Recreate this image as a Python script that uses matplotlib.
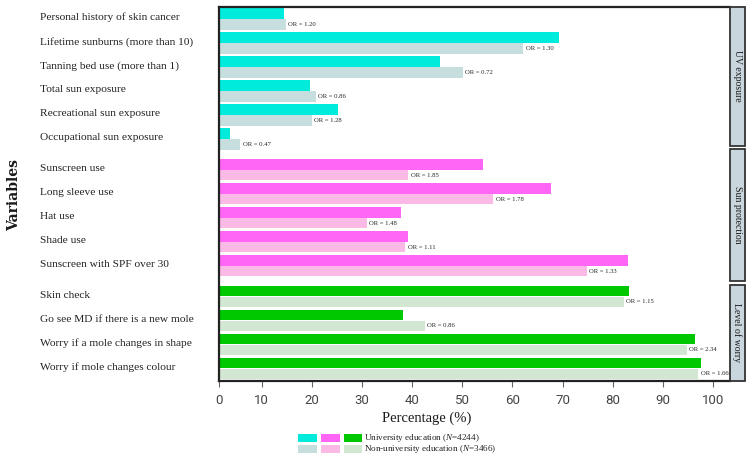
import matplotlib
matplotlib.use("Agg")
import matplotlib.pyplot as plt
from matplotlib.patches import Rectangle
from matplotlib.transforms import blended_transform_factory

categories = [
    "Personal history of skin cancer", "Lifetime sunburns (more than 10)",
    "Tanning bed use (more than 1)", "Total sun exposure",
    "Recreational sun exposure", "Occupational sun exposure",
    "Sunscreen use", "Long sleeve use", "Hat use", "Shade use",
    "Sunscreen with SPF over 30",
    "Skin check", "Go see MD if there is a new mole",
    "Worry if a mole changes in shape", "Worry if mole changes colour",
]
groups = ["UV exposure"] * 6 + ["Sun protection"] * 5 + ["Level of worry"] * 4
group_names = ["UV exposure", "Sun protection", "Level of worry"]
univ = [14.4, 69.3, 45.5, 19.7, 25.3, 3.7, 54.2, 67.7, 37.7, 39.2, 83.0,
        83.2, 38.1, 96.5, 97.6]
nonuniv = [14.8, 62.2, 50.1, 20.8, 20.0, 5.7, 39.2, 56.2, 30.9, 38.6, 74.8,
           82.2, 42.5, 94.8, 97.1]
odds = ["1.20", "1.30", "0.72", "0.86", "1.28", "0.47", "1.85", "1.78", "1.48",
        "1.11", "1.33", "1.15", "0.86", "2.34", "1.66"]
xticks = [10, 20, 30, 40, 50, 60, 70, 80, 90, 100]

colors_univ = {"UV exposure": "#00EBDB", "Sun protection": "#FF66F6",
               "Level of worry": "#00C800"}
colors_non = {"UV exposure": "#C6DEDD", "Sun protection": "#FBB9E6",
              "Level of worry": "#D1E7D1"}

SERIF = "Liberation Serif"
plt.rcParams["mathtext.fontset"] = "custom"
plt.rcParams["mathtext.rm"] = "Liberation Serif"
plt.rcParams["mathtext.it"] = "Liberation Serif:italic"

fig = plt.figure(figsize=(7.52, 4.59), dpi=100)
W, H = 752, 459
ax = fig.add_axes([219 / W, 1 - 381 / H, (730 - 219) / W, (381 - 7) / H])

gap = 0.28
pos = []
for i, g in enumerate(groups):
    pos.append(0.5 + i + gap * group_names.index(g))

bh = 0.44
off = 0.225
for p, g, u, n, o in zip(pos, groups, univ, nonuniv, odds):
    ax.barh(p - off, u, height=bh, color=colors_univ[g], edgecolor="none", zorder=2)
    ax.barh(p + off, n, height=bh, color=colors_non[g], edgecolor="none", zorder=2)
    ax.text(n + 0.5, p + off, f"OR = {o}", fontsize=4.8, family=SERIF,
            va="center", ha="left", color="#222222", zorder=3,
            bbox=dict(facecolor="white", edgecolor="none", pad=0.6))

ax.set_ylim(15.58, 0)
ax.set_xlim(1.48, 103.4)
ax.set_yticks([p - 0.1 for p in pos])
ax.set_yticklabels(categories, family=SERIF, fontsize=8.2, color="#222222")
ax.tick_params(axis="y", length=0, pad=129)
for lab in ax.get_yticklabels():
    lab.set_ha("left")
ax.set_xticks([1.48] + xticks)
ax.set_xticklabels(["0"] + [str(t) for t in xticks], family="Roboto",
                   fontsize=9.5, color="#444444")
ax.tick_params(axis="x", length=4, color="#666666", pad=5)

for s in ["left", "top", "bottom"]:
    ax.spines[s].set_linewidth(1.6)
    ax.spines[s].set_color("#222222")
ax.spines["right"].set_visible(False)

# facet strips
tr = blended_transform_factory(ax.transAxes, ax.transData)
strip_x0 = 1.0
strip_w = (744.5 - 730) / (730 - 219)
strip_ranges = {"UV exposure": (0.0, 5.78), "Sun protection": (5.92, 11.42),
                "Level of worry": (11.58, 15.58)}
for g in group_names:
    y0, y1 = strip_ranges[g]
    ax.add_patch(Rectangle((strip_x0, y0), strip_w, y1 - y0, transform=tr,
                           facecolor="#C9D6DD", edgecolor="#333333",
                           linewidth=1.3, clip_on=False, zorder=5))
    ax.text(strip_x0 + strip_w / 2, (y0 + y1) / 2, g, transform=tr,
            rotation=270, ha="center", va="center", fontsize=7,
            family=SERIF, color="#1a1a1a", zorder=6)

fig.text(14 / W, 1 - 195 / H, "Variables", rotation=90, ha="center",
         va="center", family="DejaVu Serif", fontsize=10, fontweight="bold",
         color="#1a1a1a")
fig.text(427 / W, 1 - 418 / H, "Percentage (%)", ha="center", va="center",
         family=SERIF, fontsize=10.5, color="#1a1a1a")

# legend
sw_x = [298, 321, 343.5]
sw_w = 18.5
rows = [(434, "univ", "University education ($\\it{N}$=4244)"),
        (445, "non", "Non-university education ($\\it{N}$=3466)")]
for ytop, kind, label in rows:
    for x, g in zip(sw_x, group_names):
        c = colors_univ[g] if kind == "univ" else colors_non[g]
        fig.patches.append(Rectangle((x / W, 1 - (ytop + 8) / H), sw_w / W,
                                     8 / H, transform=fig.transFigure,
                                     facecolor=c, edgecolor="none"))
    fig.text(364.5 / W, 1 - (ytop + 4) / H, label, ha="left", va="center",
             family=SERIF, fontsize=6.6, color="#222222")

fig.savefig("out.png", dpi=100)
